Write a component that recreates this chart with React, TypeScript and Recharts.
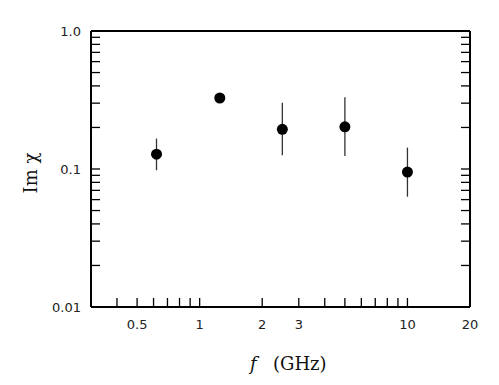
import React from 'react';
import { ScatterChart, Scatter, XAxis, YAxis, ErrorBar } from 'recharts';

// measured points (frequency in GHz, Im chi, error bar ends)
const freqs = [0.62, 1.25, 2.5, 5.0, 10];
const imChi = [0.128, 0.327, 0.194, 0.202, 0.095];
const errLow = [0.098, 0.315, 0.126, 0.124, 0.063];
const errHigh = [0.166, 0.34, 0.302, 0.331, 0.143];

const xTicks = [0.3, 0.4, 0.5, 0.6, 0.7, 0.8, 0.9, 1, 2, 3, 4, 5, 6, 7, 8, 9, 10, 20];
const xLabels = [0.5, 1, 2, 3, 10, 20];
const yTicks = [0.01, 0.02, 0.03, 0.04, 0.05, 0.06, 0.07, 0.08, 0.09, 0.1, 0.2, 0.3, 0.4, 0.5, 0.6, 0.7, 0.8, 0.9, 1];
const yLabels: Record<string, string> = { '0.01': '0.01', '0.1': '0.1', '1': '1.0' };

const data = freqs.map((f, i) => ({
    f,
    im: imChi[i],
    err: [imChi[i] - errLow[i], errHigh[i] - imChi[i]],
}));

const TICK_LEN = 9;
const tickFont = { fontFamily: '"DejaVu Sans", sans-serif', fontSize: 13, fill: '#222' };

const BottomTick = (props: any) => {
    const { x, y, payload } = props;
    const v = payload.value;
    return (
        <g>
            <line x1={x} y1={y} x2={x} y2={y - TICK_LEN} stroke="#000" strokeWidth={1.3} />
            {xLabels.includes(v) && (
                <text x={x} y={y + 22} textAnchor="middle" {...tickFont}>{v}</text>
            )}
        </g>
    );
};

const TopTick = (props: any) => {
    const { x, y } = props;
    return <line x1={x} y1={y} x2={x} y2={y + TICK_LEN} stroke="#000" strokeWidth={1.3} />;
};

const LeftTick = (props: any) => {
    const { x, y, payload } = props;
    const label = yLabels[String(payload.value)];
    return (
        <g>
            <line x1={x} y1={y} x2={x + TICK_LEN} y2={y} stroke="#000" strokeWidth={1.3} />
            {label && (
                <text x={x - 10} y={y + 4.5} textAnchor="end" {...tickFont}>{label}</text>
            )}
        </g>
    );
};

const RightTick = (props: any) => {
    const { x, y } = props;
    return <line x1={x} y1={y} x2={x - TICK_LEN} y2={y} stroke="#000" strokeWidth={1.3} />;
};

const Dot = (props: any) => {
    const { cx, cy } = props;
    return <circle cx={cx} cy={cy} r={5.5} fill="#000" />;
};

const axisLine = { stroke: '#000', strokeWidth: 2 };

export default function App() {
    return (
        <div style={{ position: 'absolute', left: 0, top: 0, width: 499, height: 385, background: '#fff' }}>
            <ScatterChart width={499} height={385} margin={{ top: 30, right: 28, bottom: 77, left: 0 }}>
                <XAxis
                    xAxisId={0}
                    dataKey="f"
                    type="number"
                    scale="log"
                    domain={[0.3, 20]}
                    allowDataOverflow
                    ticks={xTicks}
                    interval={0}
                    height={1}
                    tickSize={0}
                    tickMargin={0}
                    tickLine={false}
                    axisLine={axisLine}
                    tick={<BottomTick />}
                />
                <XAxis
                    xAxisId="top"
                    orientation="top"
                    type="number"
                    scale="log"
                    domain={[0.3, 20]}
                    allowDataOverflow
                    ticks={xTicks}
                    interval={0}
                    height={1}
                    tickSize={0}
                    tickMargin={0}
                    tickLine={false}
                    axisLine={axisLine}
                    tick={<TopTick />}
                />
                <YAxis
                    yAxisId={0}
                    dataKey="im"
                    type="number"
                    scale="log"
                    domain={[0.01, 1]}
                    allowDataOverflow
                    ticks={yTicks}
                    interval={0}
                    width={91}
                    tickSize={0}
                    tickMargin={0}
                    tickLine={false}
                    axisLine={axisLine}
                    tick={<LeftTick />}
                />
                <YAxis
                    yAxisId="right"
                    orientation="right"
                    type="number"
                    scale="log"
                    domain={[0.01, 1]}
                    allowDataOverflow
                    ticks={yTicks}
                    interval={0}
                    width={1}
                    tickSize={0}
                    tickMargin={0}
                    tickLine={false}
                    axisLine={axisLine}
                    tick={<RightTick />}
                />
                <Scatter data={data} xAxisId={0} yAxisId={0} shape={<Dot />} isAnimationActive={false}>
                    <ErrorBar dataKey="err" direction="y" width={0} stroke="#333" strokeWidth={1.3} isAnimationActive={false} />
                </Scatter>
            </ScatterChart>
            <svg width={499} height={385} style={{ position: 'absolute', left: 0, top: 0, pointerEvents: 'none' }}>
                <text
                    transform="translate(37, 173) rotate(-90)"
                    textAnchor="middle"
                    fontFamily='"DejaVu Serif", serif'
                    fontSize={18}
                    fill="#111"
                >
                    Im χ
                </text>
                <text x={250} y={370} fontFamily='"DejaVu Serif", serif' fontSize={18} fill="#111">
                    <tspan fontStyle="italic">f</tspan>
                    <tspan x={273}>(GHz)</tspan>
                </text>
            </svg>
        </div>
    );
}
